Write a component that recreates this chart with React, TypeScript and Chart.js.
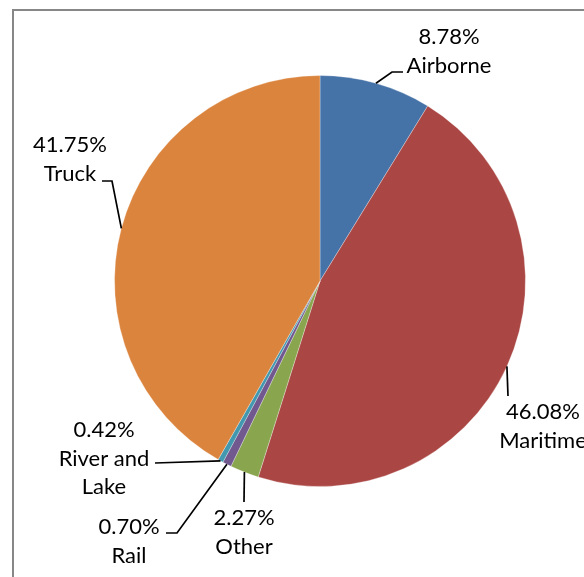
import React, { useEffect, useRef } from "react";
import { Chart, registerables } from "chart.js";

Chart.register(...registerables);

const categories = ["Airborne", "Maritime", "Other", "Rail", "River and Lake", "Truck"];
const values = [8.78, 46.08, 2.27, 0.7, 0.42, 41.75];
const valueLabels = ["8.78%", "46.08%", "2.27%", "0.70%", "0.42%", "41.75%"];
const labelLines = [["Airborne"], ["Maritime"], ["Other"], ["Rail"], ["River and", "Lake"], ["Truck"]];
const colors = ["#4572A7", "#AA4643", "#89A54E", "#71588F", "#4198AF", "#DB843D"];

// layout of the data labels (pixel anchors) and leader-line bends
const labelAnchors = [
  { x: 449, y: 37 },
  { x: 543, y: 412 },
  { x: 244, y: 518 },
  { x: 129, y: 527 },
  { x: 104, y: 430 },
  { x: 70, y: 145 },
];
const leaderBends: number[][][] = [
  [[392, 72], [403, 72]],
  [[508, 396]],
  [[244, 502]],
  [[177, 533], [166, 533]],
  [[155, 463]],
  [[112, 181], [102, 181]],
];

const FONT = "Lato, 'Open Sans', sans-serif";
const LINE_H = 28.5;

const framePlugin = {
  id: "frame",
  beforeDraw(chart: any) {
    const ctx = chart.ctx;
    ctx.save();
    ctx.fillStyle = "#ffffff";
    ctx.fillRect(0, 0, chart.width, chart.height);
    ctx.strokeStyle = "#878787";
    ctx.lineWidth = 2;
    ctx.strokeRect(13, 10, 800, 800);
    ctx.restore();
  },
};

const labelPlugin = {
  id: "pieLabels",
  afterDatasetsDraw(chart: any) {
    const ctx = chart.ctx;
    const meta = chart.getDatasetMeta(0);
    ctx.save();
    meta.data.forEach((arc: any, i: number) => {
      const p = arc.getProps(["x", "y", "startAngle", "endAngle", "outerRadius"], true);
      const mid = (p.startAngle + p.endAngle) / 2;
      const sx = p.x + Math.cos(mid) * p.outerRadius;
      const sy = p.y + Math.sin(mid) * p.outerRadius;
      ctx.strokeStyle = "#000";
      ctx.lineWidth = 1.7;
      ctx.beginPath();
      ctx.moveTo(sx, sy);
      leaderBends[i].forEach((pt) => ctx.lineTo(pt[0], pt[1]));
      ctx.stroke();

      const a = labelAnchors[i];
      ctx.fillStyle = "#000";
      ctx.font = `22px ${FONT}`;
      ctx.textAlign = "center";
      ctx.textBaseline = "middle";
      const lines = [valueLabels[i], ...labelLines[i]];
      lines.forEach((t, k) => ctx.fillText(t, a.x, a.y + k * LINE_H));
    });
    ctx.restore();
  },
};

export default function App() {
  const ref = useRef<HTMLCanvasElement>(null);
  useEffect(() => {
    if (!ref.current) return;
    const chart = new Chart(ref.current, {
      type: "pie",
      data: {
        labels: categories,
        datasets: [
          {
            data: values,
            backgroundColor: colors,
            borderColor: "rgba(255,255,255,0.3)",
            borderWidth: 1,
          },
        ],
      },
      options: {
        animation: false,
        responsive: false,
        maintainAspectRatio: false,
        layout: { padding: { left: 114, right: 58, top: 75, bottom: 90 } },
        plugins: {
          legend: { display: false },
          tooltip: { enabled: false },
        },
      },
      plugins: [framePlugin, labelPlugin],
    });
    return () => chart.destroy();
  }, []);
  return (
    <div style={{ position: "fixed", left: 0, top: 0, width: 584, height: 577, background: "#fff" }}>
      <canvas ref={ref} width={584} height={577} style={{ display: "block", width: 584, height: 577 }} />
    </div>
  );
}
